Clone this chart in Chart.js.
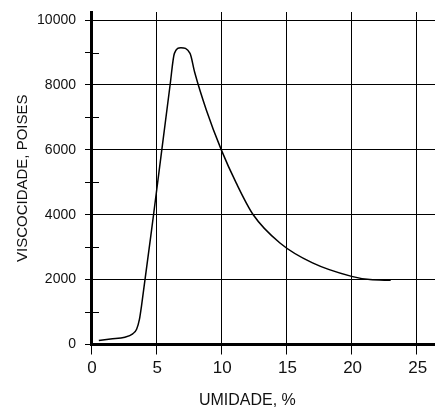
<!DOCTYPE html>
<html><head><meta charset="utf-8">
<script src="https://cdn.jsdelivr.net/npm/chart.js@4/dist/chart.umd.min.js"></script>
<style>html,body{margin:0;padding:0;background:#fff}#wrap{width:435px;height:409px}</style>
</head><body><div id="wrap"><canvas id="c" width="435" height="409"></canvas></div>
<script>
const umidade = [0.6, 1.5, 2.6, 3.2, 3.5, 3.72, 3.88, 4.8, 6.07, 6.4, 6.9, 7.6, 7.95, 8.85, 10, 11.15, 12.45, 14.5, 17, 20, 21.4, 23];
const viscosidade = [120, 170, 225, 330, 470, 780, 1200, 4000, 8000, 8975, 9150, 8975, 8400, 7230, 6000, 4975, 4000, 3130, 2515, 2100, 2000, 1980];
const xTicks = [0, 5, 10, 15, 20, 25];
const yTicks = [0, 1000, 2000, 3000, 4000, 5000, 6000, 7000, 8000, 9000, 10000];
const yLabelled = [0, 2000, 4000, 6000, 8000, 10000];
const yMinorTicks = [1000, 3000, 5000, 7000, 9000];
const xTitle = 'UMIDADE, %';
const yTitle = 'VISCOCIDADE, POISES';

const FONT = 'Liberation Sans, Arial, sans-serif';
const NARROW = '"Liberation Sans Narrow", "Arial Narrow", Liberation Sans, sans-serif';

const minorTickPlugin = {
  id: 'minorTicks',
  afterDraw(chart) {
    const ys = chart.scales.y, xs = chart.scales.x, ctx = chart.ctx, x0 = chart.chartArea.left;
    ctx.save();
    ctx.strokeStyle = '#000';
    ctx.lineWidth = 1;
    yMinorTicks.forEach(v => {
      const py = Math.round(ys.getPixelForValue(v)) + 0.5;
      ctx.beginPath(); ctx.moveTo(x0, py); ctx.lineTo(x0 + 8, py); ctx.stroke();
    });
    ctx.fillStyle = '#111';
    ctx.font = '16px ' + FONT;
    ctx.textAlign = 'center';
    ctx.textBaseline = 'middle';
    ctx.fillText(xTitle, xs.getPixelForValue(12.0), 401);
    ctx.restore();
  }
};

new Chart(document.getElementById('c'), {
  type: 'line',
  data: {
    datasets: [{
      data: umidade.map((u, i) => ({ x: u, y: viscosidade[i] })),
      borderColor: '#000',
      borderWidth: 1.5,
      pointRadius: 0,
      fill: false,
      cubicInterpolationMode: 'monotone'
    }]
  },
  options: {
    responsive: false,
    animation: false,
    devicePixelRatio: 1,
    layout: { padding: { top: 12, left: 0, right: 0, bottom: 0 } },
    plugins: { legend: { display: false }, tooltip: { enabled: false } },
    scales: {
      x: {
        type: 'linear', min: 0, max: 26.4,
        afterBuildTicks: s => { s.ticks = xTicks.map(v => ({ value: v })); },
        afterFit: s => { s.height = 64.5; s.paddingLeft = 0; s.paddingRight = 0; },
        grid: { color: '#000', lineWidth: 1, tickLength: 10, tickColor: '#000' },
        border: { color: '#000', width: 3 },
        ticks: { color: '#111', font: { family: NARROW, size: 17 }, padding: 4, maxRotation: 0, labelOffset: 1 },
        title: { display: false, text: xTitle }
      },
      y: {
        type: 'linear', min: 0, max: 10250,
        afterBuildTicks: s => { s.ticks = yTicks.map(v => ({ value: v })); },
        afterFit: s => { s.width = 91; s.paddingTop = 0; s.paddingBottom = 0; },
        grid: {
          color: c => (c.tick && yLabelled.includes(c.tick.value)) ? '#000' : 'rgba(0,0,0,0)',
          tickColor: '#000', lineWidth: 1, tickLength: 6
        },
        border: { color: '#000', width: 3 },
        ticks: {
          color: '#111', font: { family: FONT, size: 14 }, padding: 9,
          callback: v => yLabelled.includes(v) ? String(v) : ''
        },
        title: { display: true, text: yTitle, color: '#111', font: { family: FONT, size: 15, lineHeight: 1 }, padding: { top: 15, bottom: 0 } }
      }
    }
  },
  plugins: [minorTickPlugin]
});
</script></body></html>
